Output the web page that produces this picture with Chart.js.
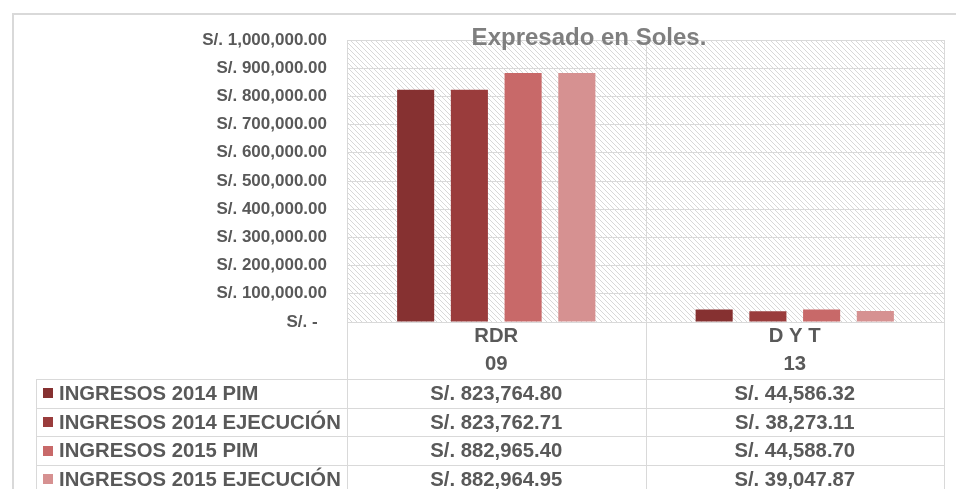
<!DOCTYPE html>
<html>
<head>
<meta charset="utf-8">
<title>Expresado en Soles.</title>
<script src="https://cdn.jsdelivr.net/npm/chart.js@4/dist/chart.umd.min.js"></script>
<style>
  html, body { margin: 0; padding: 0; background: #fff; }
  #chart { display: block; }
</style>
</head>
<body>
<canvas id="chart" width="956" height="489"></canvas>
<script>
// --- Data ---
const categories = [['RDR', '09'], ['D Y T', '13']];
const seriesNames = ['INGRESOS 2014 PIM', 'INGRESOS 2014 EJECUCIÓN', 'INGRESOS 2015 PIM', 'INGRESOS 2015 EJECUCIÓN'];
const ingresos2014Pim = [823764.80, 44586.32];
const ingresos2014Ejec = [823762.71, 38273.11];
const ingresos2015Pim = [882965.40, 44588.70];
const ingresos2015Ejec = [882964.95, 39047.87];
const yTicks = [0, 100000, 200000, 300000, 400000, 500000, 600000, 700000, 800000, 900000, 1000000];
const titleText = 'Expresado en Soles.';

const seriesValues = [ingresos2014Pim, ingresos2014Ejec, ingresos2015Pim, ingresos2015Ejec];
const seriesColors = ['#863131', '#9a3c3c', '#c86969', '#d69191'];

const FONT = '"Liberation Sans", Arial, sans-serif';
const TEXT = '#595959';
const LINE = '#d9d9d9';

function formatSoles(v) {
    return 'S/. ' + v.toLocaleString('en-US', { minimumFractionDigits: 2, maximumFractionDigits: 2 });
}

// hatch pattern for the plot area
function makeHatch() {
    const c = document.createElement('canvas');
    c.width = 5; c.height = 5;
    const g = c.getContext('2d');
    g.fillStyle = '#ffffff';
    g.fillRect(0, 0, 5, 5);
    g.fillStyle = '#d8d8d8';
    for (let i = 0; i < 5; i++) g.fillRect(i, i, 1, 1);
    return g.createPattern(c, 'repeat');
}

const tablePlugin = {
    id: 'dataTable',
    beforeDraw(chart) {
        const { ctx, chartArea } = chart;
        ctx.save();
        ctx.fillStyle = makeHatch();
        ctx.fillRect(chartArea.left, chartArea.top, chartArea.right - chartArea.left, chartArea.bottom - chartArea.top);
        // outer chart border
        ctx.strokeStyle = LINE;
        ctx.lineWidth = 2;
        ctx.strokeRect(13, 14, 960, 500);
        ctx.restore();
    },
    afterDraw(chart) {
        const { ctx, chartArea, scales } = chart;
        const x = scales.x;
        const H = chart.height;
        const rowTop = chartArea.bottom + 57;
        const rowH = 28.7;
        const tableLeft = 36;
        const bounds = [chartArea.left, (x.getPixelForValue(0) + x.getPixelForValue(1)) / 2, chartArea.right];

        ctx.save();
        ctx.strokeStyle = LINE;
        ctx.lineWidth = 1;
        // vertical lines through plot and table
        bounds.forEach(bx => {
            ctx.beginPath();
            ctx.moveTo(Math.round(bx) + 0.5, chartArea.top);
            ctx.lineTo(Math.round(bx) + 0.5, H);
            ctx.stroke();
        });
        ctx.beginPath();
        ctx.moveTo(tableLeft + 0.5, rowTop);
        ctx.lineTo(tableLeft + 0.5, H);
        ctx.stroke();
        // axis line
        ctx.beginPath();
        ctx.moveTo(chartArea.left, Math.round(chartArea.bottom) + 0.5);
        ctx.lineTo(chartArea.right, Math.round(chartArea.bottom) + 0.5);
        ctx.stroke();
        // row lines
        for (let r = 0; r <= seriesNames.length; r++) {
            const y = Math.round(rowTop + r * rowH) + 0.5;
            ctx.beginPath();
            ctx.moveTo(tableLeft, y);
            ctx.lineTo(chartArea.right, y);
            ctx.stroke();
        }

        // legend keys, names and values
        ctx.font = 'bold 20.3px ' + FONT;
        ctx.textBaseline = 'middle';
        seriesNames.forEach((name, r) => {
            const cy = rowTop + r * rowH + rowH / 2;
            ctx.fillStyle = seriesColors[r];
            ctx.fillRect(43, Math.round(cy) - 5, 10, 10);
            ctx.fillStyle = TEXT;
            ctx.textAlign = 'left';
            ctx.fillText(name, 59, cy + 1);
            ctx.textAlign = 'center';
            seriesValues[r].forEach((v, c) => {
                ctx.fillText(formatSoles(v), x.getPixelForValue(c), cy + 1);
            });
        });

        // title
        ctx.font = 'bold 24px ' + FONT;
        ctx.fillStyle = '#7f7f7f';
        ctx.textAlign = 'center';
        ctx.textBaseline = 'alphabetic';
        ctx.fillText(titleText, 589, 45);
        ctx.restore();
    }
};

new Chart(document.getElementById('chart'), {
    type: 'bar',
    data: {
        labels: categories,
        datasets: seriesNames.map((name, i) => ({
            label: name,
            data: seriesValues[i],
            backgroundColor: seriesColors[i],
            borderWidth: 0,
            categoryPercentage: 0.72,
            barPercentage: 0.69
        }))
    },
    options: {
        responsive: false,
        animation: false,
        layout: { padding: { top: 40, right: 12, left: 0, bottom: 0 } },
        plugins: {
            legend: { display: false },
            title: { display: false },
            tooltip: { enabled: false }
        },
        scales: {
            x: {
                grid: { display: false, drawTicks: false },
                border: { display: false },
                ticks: {
                    color: TEXT,
                    font: { family: FONT, size: 20.3, weight: 'bold', lineHeight: 1.38 },
                    padding: 0,
                    maxRotation: 0
                },
                afterFit(scale) { scale.height = 167; }
            },
            y: {
                min: 0,
                max: 1000000,
                afterBuildTicks(scale) { scale.ticks = yTicks.map(v => ({ value: v })); },
                grid: { color: LINE, drawTicks: false },
                border: { display: false },
                ticks: {
                    color: TEXT,
                    padding: 20,
                    font: { family: FONT, size: 17, weight: 'bold' },
                    callback: v => v === 0 ? 'S/. -  ' : formatSoles(v)
                },
                afterFit(scale) { scale.width = 347; }
            }
        }
    },
    plugins: [tablePlugin]
});
</script>
</body>
</html>
